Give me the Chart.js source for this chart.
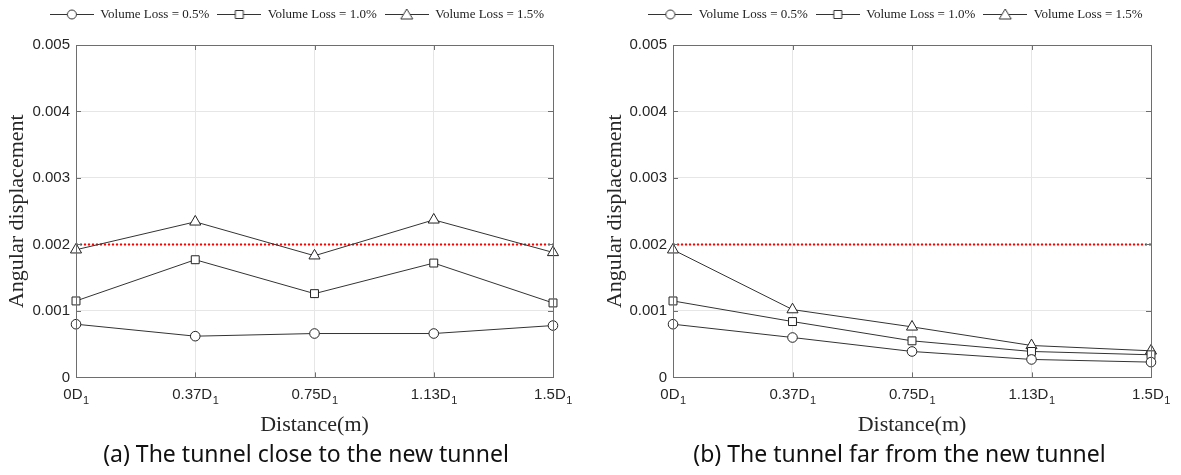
<!DOCTYPE html>
<html>
<head>
<meta charset="utf-8">
<script src="https://cdn.jsdelivr.net/npm/chart.js@4.4.0/dist/chart.umd.min.js"></script>
<style>
  body { margin: 0; background: #fff; width: 1181px; height: 475px; overflow: hidden; }
  .box { position: absolute; top: 0; height: 475px; }
  #boxA { left: 0; width: 590px; }
  #boxB { left: 590px; width: 591px; }
</style>
</head>
<body>
<div class="box" id="boxA"><canvas id="chartA"></canvas></div>
<div class="box" id="boxB"><canvas id="chartB"></canvas></div>
<script>
// x categories (distance from tunnel)
const distances = ['0D₁', '0.37D₁', '0.75D₁', '1.13D₁', '1.5D₁'];
const seriesNames = ['Volume Loss = 0.5%', 'Volume Loss = 1.0%', 'Volume Loss = 1.5%'];
const markerStyles = ['circle', 'rect', 'triangle'];
const markerSizes = [4.8, 5.6, 6.4];

// (a) tunnel close to the new tunnel
const closeLoss05 = [0.00080, 0.00062, 0.00066, 0.00066, 0.00078];
const closeLoss10 = [0.00115, 0.00177, 0.00126, 0.00172, 0.00112];
const closeLoss15 = [0.00192, 0.00234, 0.00183, 0.00237, 0.00188];

// (b) tunnel far from the new tunnel
const farLoss05 = [0.00080, 0.00060, 0.00039, 0.00027, 0.00023];
const farLoss10 = [0.00115, 0.00084, 0.00055, 0.00039, 0.00034];
const farLoss15 = [0.00192, 0.00102, 0.00076, 0.00048, 0.00040];

// allowable limit
const limitLine = [0.002, 0.002, 0.002, 0.002, 0.002];

const yTickValues = [0, 0.001, 0.002, 0.003, 0.004, 0.005];
const yTickLabels = ['0', '0.001', '0.002', '0.003', '0.004', '0.005'];

const sansFont = "'Liberation Sans', Arial, sans-serif";
const serifFont = "'Liberation Serif', 'Times New Roman', serif";

function legendIcon(style) {
    const c = document.createElement('canvas');
    c.width = 44; c.height = 13;
    const g = c.getContext('2d');
    g.strokeStyle = '#333'; g.lineWidth = 1;
    g.beginPath(); g.moveTo(0, 6.5); g.lineTo(44, 6.5); g.stroke();
    g.fillStyle = '#fff';
    g.beginPath();
    if (style === 'circle') g.arc(22, 6.5, 4.5, 0, Math.PI * 2);
    else if (style === 'rect') g.rect(18, 2.5, 8, 8);
    else { g.moveTo(22, 1); g.lineTo(28, 11); g.lineTo(16, 11); g.closePath(); }
    g.fill(); g.stroke();
    return c;
}
const icons = markerStyles.map(legendIcon);

// matlab style box with inner ticks, plus subscripted x labels
const framePlugin = {
    id: 'frame',
    afterInit(chart) {
        const lg = chart.legend;
        const fit = lg.fit;
        lg.fit = function () { fit.call(this); this.height += 14; };
    },
    afterLayout(chart, args, opts) {
        // nudge legend / caption to where the figure has them
        chart.legend.left += opts.legendShift * 2;
        chart.titleBlock.left += opts.captionShift * 2;
    },
    afterDraw(chart) {
        const {ctx, chartArea: a, scales} = chart;
        ctx.save();
        ctx.strokeStyle = '#6e6e6e';
        ctx.lineWidth = 1;
        ctx.beginPath();
        yTickValues.forEach(v => {
            const y = Math.round(scales.y.getPixelForValue(v)) + 0.5;
            ctx.moveTo(a.left, y); ctx.lineTo(a.left + 5, y);
            ctx.moveTo(a.right, y); ctx.lineTo(a.right - 5, y);
        });
        distances.forEach((d, i) => {
            const x = Math.round(scales.x.getPixelForValue(i)) + 0.5;
            ctx.moveTo(x, a.bottom); ctx.lineTo(x, a.bottom - 5);
            ctx.moveTo(x, a.top); ctx.lineTo(x, a.top + 5);
        });
        ctx.stroke();
        ctx.strokeRect(Math.round(a.left) + 0.5, Math.round(a.top) + 0.5,
            Math.round(a.right - a.left), Math.round(a.bottom - a.top));

        // x tick labels: "0.75D" with subscript 1
        ctx.fillStyle = '#262626';
        ctx.textBaseline = 'alphabetic';
        ctx.textAlign = 'left';
        distances.forEach((d, i) => {
            const base = d.replace('₁', '');
            ctx.font = '15px ' + sansFont;
            const w1 = ctx.measureText(base).width;
            ctx.font = '11px ' + sansFont;
            const w2 = ctx.measureText('1').width;
            const x0 = scales.x.getPixelForValue(i) - (w1 + w2) / 2;
            const yb = a.bottom + 22;
            ctx.font = '15px ' + sansFont;
            ctx.fillText(base, x0, yb);
            ctx.font = '11px ' + sansFont;
            ctx.fillText('1', x0 + w1 + 0.5, yb + 5);
        });
        ctx.restore();
    }
};

function makeChart(id, caption, series, padLeft, plotLeft, rightGap, legendShift, captionShift) {
    const datasets = series.map((vals, i) => ({
        label: seriesNames[i],
        data: vals,
        borderColor: '#333',
        borderWidth: 1,
        pointStyle: markerStyles[i],
        pointRadius: markerSizes[i],
        pointBackgroundColor: '#fff',
        pointBorderColor: '#222',
        pointBorderWidth: 1,
        tension: 0,
        order: 0
    }));
    datasets.push({
        label: 'limit',
        data: limitLine,
        borderColor: '#ff0000',
        borderWidth: 2,
        borderDash: [2, 2],
        pointRadius: 0,
        order: 1
    });

    return new Chart(document.getElementById(id), {
        type: 'line',
        data: { labels: distances, datasets: datasets },
        plugins: [framePlugin],
        options: {
            responsive: true,
            maintainAspectRatio: false,
            animation: false,
            layout: { padding: { left: padLeft, right: 0, top: 0, bottom: 0 } },
            plugins: {
                frame: { legendShift: legendShift, captionShift: captionShift },
                tooltip: { enabled: false },
                legend: {
                    position: 'top',
                    labels: {
                        usePointStyle: true,
                        pointStyleWidth: 44,
                        padding: 8,
                        color: '#222',
                        font: { family: serifFont, size: 13 },
                        filter: item => item.datasetIndex < 3,
                        generateLabels: chart => {
                            const items = Chart.defaults.plugins.legend.labels.generateLabels(chart);
                            items.forEach(it => { if (it.datasetIndex < 3) it.pointStyle = icons[it.datasetIndex]; });
                            return items;
                        }
                    }
                },
                title: {
                    display: true,
                    position: 'bottom',
                    text: caption,
                    color: '#111',
                    font: { family: "'Noto Sans', sans-serif", size: 23, weight: 'normal' },
                    padding: { top: 0, bottom: 6 }
                }
            },
            scales: {
                x: {
                    type: 'category',
                    offset: false,
                    grid: { color: '#e6e6e6', drawTicks: false },
                    border: { display: false },
                    ticks: {
                        color: 'rgba(0,0,0,0)', padding: 8, maxRotation: 0, autoSkip: false,
                        font: { family: sansFont, size: 15 }
                    },
                    title: {
                        display: true, text: 'Distance(m)', color: '#262626',
                        font: { family: serifFont, size: 22 },
                        padding: { top: 4, bottom: 3 }
                    },
                    afterFit: s => { s.height = 64; }
                },
                y: {
                    min: 0,
                    max: 0.005,
                    grid: { color: '#e6e6e6', drawTicks: false },
                    border: { display: false },
                    afterBuildTicks: s => { s.ticks = yTickValues.map(v => ({ value: v })); },
                    ticks: {
                        color: '#262626', padding: 6,
                        font: { family: sansFont, size: 15 },
                        callback: (v, i) => yTickLabels[i]
                    },
                    title: {
                        display: true, text: 'Angular displacement', color: '#262626',
                        font: { family: serifFont, size: 22 },
                        padding: { top: 4, bottom: 4 }
                    },
                    afterFit: s => { s.width = plotLeft - padLeft; }
                },
                y2: {
                    type: 'linear',
                    position: 'right',
                    grid: { display: false },
                    border: { display: false },
                    ticks: { display: false },
                    afterFit: s => { s.width = rightGap; }
                }
            }
        }
    });
}

makeChart('chartA', '(a) The tunnel close to the new tunnel',
    [closeLoss05, closeLoss10, closeLoss15], 0, 76, 37, 2, 11);
makeChart('chartB', '(b) The tunnel far from the new tunnel',
    [farLoss05, farLoss10, farLoss15], 8, 83, 30, 6, 10);
</script>
</body>
</html>
